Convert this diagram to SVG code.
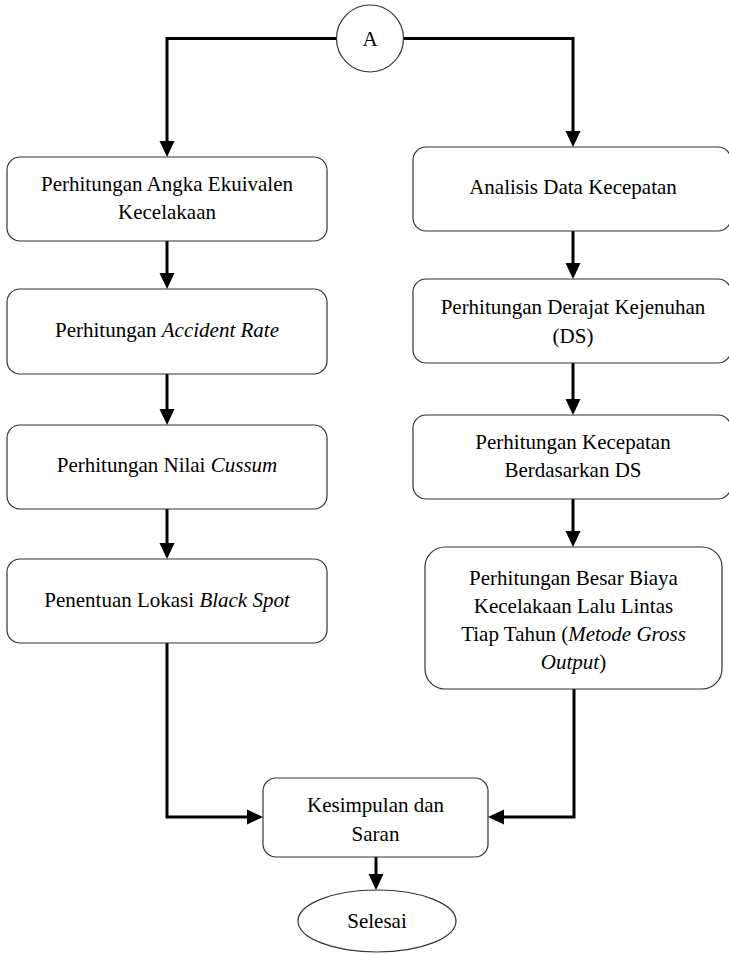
<svg xmlns="http://www.w3.org/2000/svg" width="729" height="954" viewBox="0 0 729 954">
<defs>
<style>
.box{fill:#fff;stroke:#333;stroke-width:1.2}
text{font-family:'Liberation Serif','Tinos','Times New Roman','DejaVu Serif',serif;font-size:21px;fill:#000;text-anchor:middle}
.i{font-style:italic}
.c{fill:none;stroke:#000;stroke-width:3}
</style>
<marker id="ah" markerUnits="userSpaceOnUse" markerWidth="16" markerHeight="16" viewBox="0 0 16 16" refX="8" refY="8" orient="auto">
<path d="M0,0.5 L16,8 L0,15.5 z" fill="#000"/>
</marker>
</defs>
<rect width="729" height="954" fill="#fff"/>

<g id="connectors">
<path class="c" d="M336,38.5 H167 V149" marker-end="url(#ah)"/>
<path class="c" d="M404,38.5 H573 V139" marker-end="url(#ah)"/>
<path class="c" d="M167,241 V281" marker-end="url(#ah)"/>
<path class="c" d="M167,374 V417" marker-end="url(#ah)"/>
<path class="c" d="M167,509 V551" marker-end="url(#ah)"/>
<path class="c" d="M167,643 V817 H255" marker-end="url(#ah)"/>
<path class="c" d="M573,231 V271" marker-end="url(#ah)"/>
<path class="c" d="M573,363 V407" marker-end="url(#ah)"/>
<path class="c" d="M573,499 V539" marker-end="url(#ah)"/>
<path class="c" d="M574,689 V817 H496" marker-end="url(#ah)"/>
<path class="c" d="M376,857 V882" marker-end="url(#ah)"/>
</g>

<g id="nodeA">
<circle cx="370" cy="38.5" r="33.5" fill="#fff" stroke="#333" stroke-width="1.2"/>
<text x="370" y="46">A</text>
</g>

<g id="l1">
<rect class="box" x="7" y="157" width="320" height="84" rx="13"/>
<text x="167" y="191">Perhitungan Angka Ekuivalen</text>
<text x="167" y="218.5">Kecelakaan</text>
</g>
<g id="l2">
<rect class="box" x="7" y="289" width="320" height="85" rx="13"/>
<text x="167" y="337">Perhitungan <tspan class="i">Accident Rate</tspan></text>
</g>
<g id="l3">
<rect class="box" x="7" y="425" width="320" height="84" rx="13"/>
<text x="167" y="472">Perhitungan Nilai <tspan class="i">Cussum</tspan></text>
</g>
<g id="l4">
<rect class="box" x="7" y="559" width="320" height="84" rx="13"/>
<text x="167" y="607">Penentuan Lokasi <tspan class="i">Black Spot</tspan></text>
</g>

<g id="r1">
<rect class="box" x="413" y="147" width="318" height="84" rx="13"/>
<text x="573" y="194">Analisis Data Kecepatan</text>
</g>
<g id="r2">
<rect class="box" x="413" y="279" width="318" height="84" rx="13"/>
<text x="573" y="314">Perhitungan Derajat Kejenuhan</text>
<text x="573" y="343">(DS)</text>
</g>
<g id="r3">
<rect class="box" x="413" y="415" width="318" height="84" rx="13"/>
<text x="573" y="449">Perhitungan Kecepatan</text>
<text x="573" y="477">Berdasarkan DS</text>
</g>
<g id="r4">
<rect class="box" x="425" y="547" width="297" height="142" rx="20"/>
<text x="573.5" y="585">Perhitungan Besar Biaya</text>
<text x="573.5" y="613">Kecelakaan Lalu Lintas</text>
<text x="573.5" y="641">Tiap Tahun (<tspan class="i">Metode Gross</tspan></text>
<text x="573.5" y="669"><tspan class="i">Output</tspan>)</text>
</g>

<g id="kesimpulan">
<rect class="box" x="263" y="778" width="225" height="79" rx="13"/>
<text x="375.5" y="812">Kesimpulan dan</text>
<text x="375.5" y="841">Saran</text>
</g>

<g id="selesai">
<ellipse cx="377" cy="921" rx="79" ry="31" fill="#fff" stroke="#333" stroke-width="1.2"/>
<text x="377" y="928">Selesai</text>
</g>
</svg>
